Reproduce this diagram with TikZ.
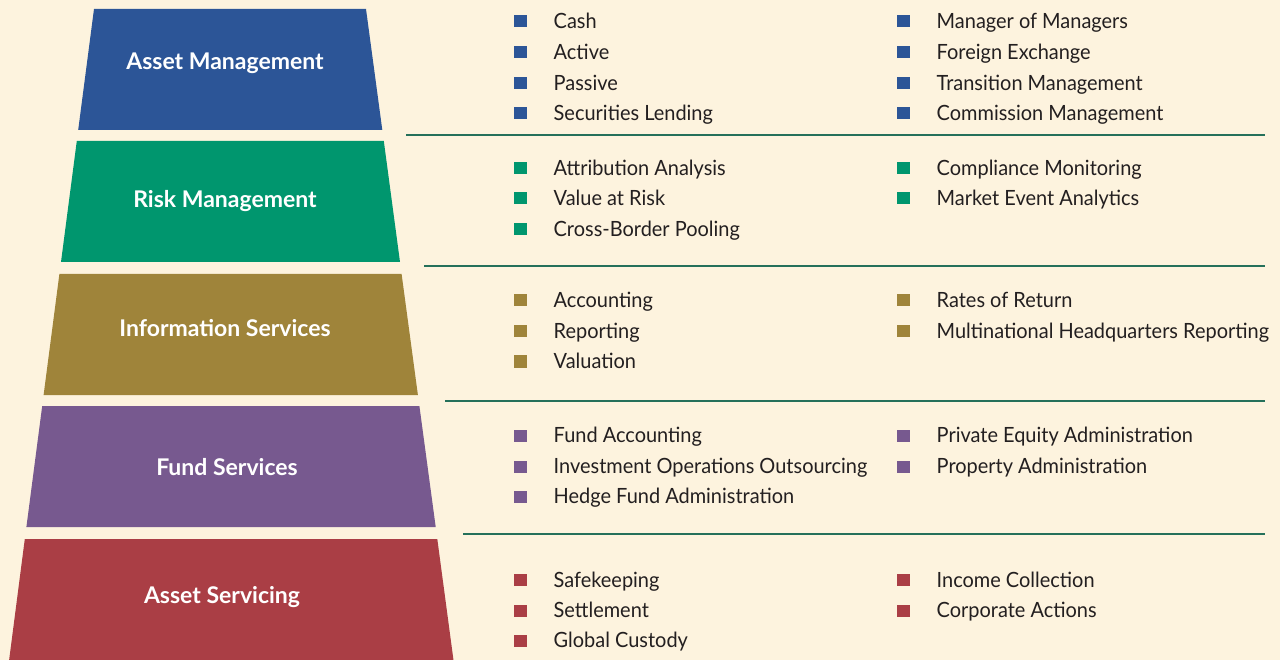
\documentclass[tikz,border=0pt]{standalone}
\usepackage{fontspec}
\setmainfont{Lato}
\newfontfamily\itemfont[FakeStretch=0.95]{Lato}
\definecolor{bg}{HTML}{FDF3DE}
\definecolor{cblue}{HTML}{2C5597}
\definecolor{cgreen}{HTML}{00966E}
\definecolor{colive}{HTML}{9F843A}
\definecolor{cpurple}{HTML}{77598F}
\definecolor{cred}{HTML}{AA3E45}
\definecolor{sepc}{HTML}{25705A}
\definecolor{txt}{HTML}{231F20}
\newcommand\itm[5]{%
  \fill[#2] (#3-6.5,#4-13) rectangle (#3+6.5,#4-1);
  \node[item] (#1) at (#3+33.5,#4) {#5};}
\begin{document}
\begin{tikzpicture}[x=1pt,y=-1pt,
  lab/.style={text=white,font=\fontsize{23}{23}\selectfont\bfseries,anchor=base,inner sep=0pt},
  item/.style={text=txt,font=\itemfont\fontsize{21}{21}\selectfont,anchor=base west,inner sep=0pt},
  sep/.style={draw=sepc,line width=1.5pt}]
\fill[bg] (0,0) rectangle (1280,660);
\useasboundingbox (0,0) rectangle (1280,660);
% tiers
\fill[cblue]   (94,9)   -- (366,9)   -- (382.3,130) -- (78.2,130) -- cycle;
\fill[cgreen]  (76.8,141) -- (383.8,141) -- (400,262) -- (61,262) -- cycle;
\fill[colive]  (59.4,274) -- (401.6,274) -- (417.9,395) -- (43.6,395) -- cycle;
\fill[cpurple] (42.2,406) -- (419.4,406) -- (435.7,527) -- (26.4,527) -- cycle;
\fill[cred]    (24.8,539) -- (437.3,539) -- (453.6,661) -- (9,661) -- cycle;
\node[lab] (t1) at (225,70) {Asset Management};
\node[lab] (t2) at (225,208) {Risk Management};
\node[lab] (t3) at (225,337) {Information Services};
\node[lab] (t4) at (227,475) {Fund Services};
\node[lab] (t5) at (222,603) {Asset Servicing};
% separators
\coordinate (s1a) at (406,135); \coordinate (s1b) at (1265,135);
\coordinate (s2a) at (424,266); \coordinate (s2b) at (1265,266);
\coordinate (s3a) at (445,401); \coordinate (s3b) at (1265,401);
\coordinate (s4a) at (463,534); \coordinate (s4b) at (1265,534);
\draw[sep] (s1a) -- (s1b);
\draw[sep] (s2a) -- (s2b);
\draw[sep] (s3a) -- (s3b);
\draw[sep] (s4a) -- (s4b);
% band 1
\itm{a1}{cblue}{520}{28.5}{Cash}
\itm{a2}{cblue}{520}{59.5}{Active}
\itm{a3}{cblue}{520}{90.5}{Passive}
\itm{a4}{cblue}{520}{120.5}{Securities Lending}
\itm{a5}{cblue}{903}{28.5}{Manager of Managers}
\itm{a6}{cblue}{903}{59.5}{Foreign Exchange}
\itm{a7}{cblue}{903}{90.5}{Transition Management}
\itm{a8}{cblue}{903}{120.5}{Commission Management}
% band 2
\itm{b1}{cgreen}{520}{175.5}{Attribution Analysis}
\itm{b2}{cgreen}{520}{205.5}{Value at Risk}
\itm{b3}{cgreen}{520}{236.5}{Cross-Border Pooling}
\itm{b4}{cgreen}{903}{175.5}{Compliance Monitoring}
\itm{b5}{cgreen}{903}{205.5}{Market Event Analytics}
% band 3
\itm{c1}{colive}{520}{307.5}{Accounting}
\itm{c2}{colive}{520}{338.5}{Reporting}
\itm{c3}{colive}{520}{368.5}{Valuation}
\itm{c4}{colive}{903}{307.5}{Rates of Return}
\itm{c5}{colive}{903}{338.5}{Multinational Headquarters Reporting}
% band 4
\itm{d1}{cpurple}{520}{442.5}{Fund Accounting}
\itm{d2}{cpurple}{520}{473.5}{Investment Operations Outsourcing}
\itm{d3}{cpurple}{520}{503.5}{Hedge Fund Administration}
\itm{d4}{cpurple}{903}{442.5}{Private Equity Administration}
\itm{d5}{cpurple}{903}{473.5}{Property Administration}
% band 5
\itm{e1}{cred}{520}{587}{Safekeeping}
\itm{e2}{cred}{520}{617.5}{Settlement}
\itm{e3}{cred}{520}{647.5}{Global Custody}
\itm{e4}{cred}{903}{587}{Income Collection}
\itm{e5}{cred}{903}{617.5}{Corporate Actions}
\end{tikzpicture}
\end{document}
